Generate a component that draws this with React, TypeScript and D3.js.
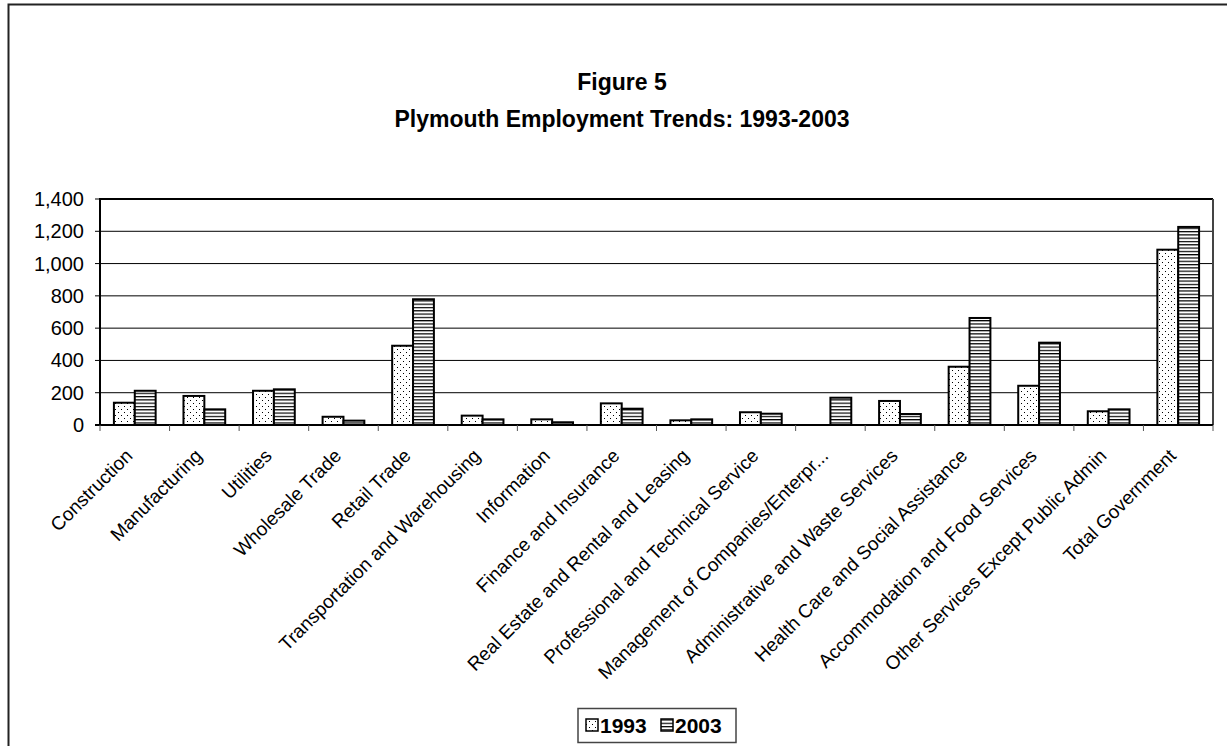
import React from "react";
import * as d3 from "d3";

const categories = [
  "Construction",
  "Manufacturing",
  "Utilities",
  "Wholesale Trade",
  "Retail Trade",
  "Transportation and Warehousing",
  "Information",
  "Finance and Insurance",
  "Real Estate and Rental and Leasing",
  "Professional and Technical Service",
  "Management of Companies/Enterpr...",
  "Administrative and Waste Services",
  "Health Care and Social Assistance",
  "Accommodation and Food Services",
  "Other Services Except Public Admin",
  "Total Government",
];
const values1993 = [138, 180, 212, 51, 491, 58, 35, 134, 29, 79, 0, 149, 361, 243, 85, 1086];
const values2003 = [212, 97, 221, 27, 779, 35, 17, 101, 35, 70, 169, 68, 663, 510, 97, 1227];
const seriesNames = ["1993", "2003"];
const yTicks = [0, 200, 400, 600, 800, 1000, 1200, 1400];

const W = 1227;
const H = 746;
const left = 100;
const right = 1213;
const top = 199;
const bottom = 425;
const FONT = "'Liberation Sans', Arial, sans-serif";

export default function App() {
  const x = d3.scaleBand<string>().domain(categories).range([left, right]).paddingInner(0.4).paddingOuter(0.2);
  const xs = d3.scaleBand<string>().domain(seriesNames).range([0, x.bandwidth()]);
  const y = d3.scaleLinear().domain([0, 1400]).range([bottom, top]);
  const step = x.step();
  const fmt = d3.format(",");
  const fills = ["url(#dots)", "url(#hlines)"];
  const series = [values1993, values2003];

  return (
    <svg width={W} height={H} style={{ position: "absolute", left: 0, top: 0, background: "#fff" }} fontFamily={FONT}>
      <defs>
        <pattern id="dots" width="6" height="6" patternUnits="userSpaceOnUse">
          <rect width="6" height="6" fill="#fff" />
          <rect x="1" y="1" width="1" height="1" fill="#000" />
          <rect x="4" y="4" width="1" height="1" fill="#000" />
        </pattern>
        <pattern id="hlines" width="6" height="3.3" patternUnits="userSpaceOnUse">
          <rect width="6" height="3.3" fill="#fff" />
          <rect x="0" y="0" width="6" height="1.2" fill="#000" />
        </pattern>
      </defs>
      <rect x={8.5} y={4.5} width={1240} height={780} fill="#fff" stroke="#222" strokeWidth={2} />

      <text x={622} y={90} textAnchor="middle" fontWeight="bold" fontSize={23}>Figure 5</text>
      <text x={622} y={127} textAnchor="middle" fontWeight="bold" fontSize={23}>Plymouth Employment Trends: 1993-2003</text>

      {/* gridlines */}
      {yTicks.filter((t) => t > 0 && t < 1400).map((t) => (
        <line key={t} x1={left} x2={right} y1={y(t)} y2={y(t)} stroke="#000" strokeWidth={1} />
      ))}
      {/* plot border top/right */}
      <line x1={left} x2={right} y1={y(1400)} y2={y(1400)} stroke="#000" strokeWidth={2} />
      <line x1={right} x2={right} y1={top} y2={bottom} stroke="#444" strokeWidth={2} />

      {/* bars */}
      {categories.map((c, i) => (
        <g key={c}>
          {series.map((vals, s) =>
            vals[i] > 0 ? (
              <rect
                key={s}
                x={(x(c) as number) + (xs(seriesNames[s]) as number)}
                y={y(vals[i])}
                width={xs.bandwidth()}
                height={y(0) - y(vals[i])}
                fill={fills[s]}
                stroke="#000"
                strokeWidth={2}
              />
            ) : null
          )}
        </g>
      ))}

      {/* axes */}
      <line x1={left} x2={left} y1={top - 1} y2={bottom} stroke="#000" strokeWidth={2} />
      <line x1={left - 5} x2={right} y1={bottom} y2={bottom} stroke="#000" strokeWidth={2} />
      {yTicks.map((t) => (
        <g key={t}>
          <line x1={left - 5} x2={left} y1={y(t)} y2={y(t)} stroke="#000" strokeWidth={1} />
          <text x={84} y={y(t)} dy="0.35em" textAnchor="end" fontSize={20}>{fmt(t)}</text>
        </g>
      ))}
      {categories.map((c, i) => (
        <line key={c} x1={left + step * (i + 1)} x2={left + step * (i + 1)} y1={bottom} y2={bottom + 6} stroke="#555" strokeWidth={1} />
      ))}
      <line x1={left} x2={left} y1={bottom} y2={bottom + 6} stroke="#555" strokeWidth={1} />

      {/* category labels */}
      {categories.map((c) => {
        const cx = (x(c) as number) + x.bandwidth() / 2;
        return (
          <text key={c} transform={`translate(${cx - 1},${bottom + 32}) rotate(-45)`} textAnchor="end" fontSize={19}>
            {c}
          </text>
        );
      })}

      {/* legend */}
      <rect x={578} y={708.5} width={158} height={34} fill="#fff" stroke="#444" strokeWidth={1.5} />
      {seriesNames.map((s, i) => {
        const lx = 586 + i * 75;
        return (
          <g key={s}>
            <rect x={lx} y={719} width={12} height={12} fill={fills[i]} stroke="#000" strokeWidth={1.5} />
            <text x={lx + 14} y={725} dy="0.36em" fontWeight="bold" fontSize={21}>{s}</text>
          </g>
        );
      })}
    </svg>
  );
}
